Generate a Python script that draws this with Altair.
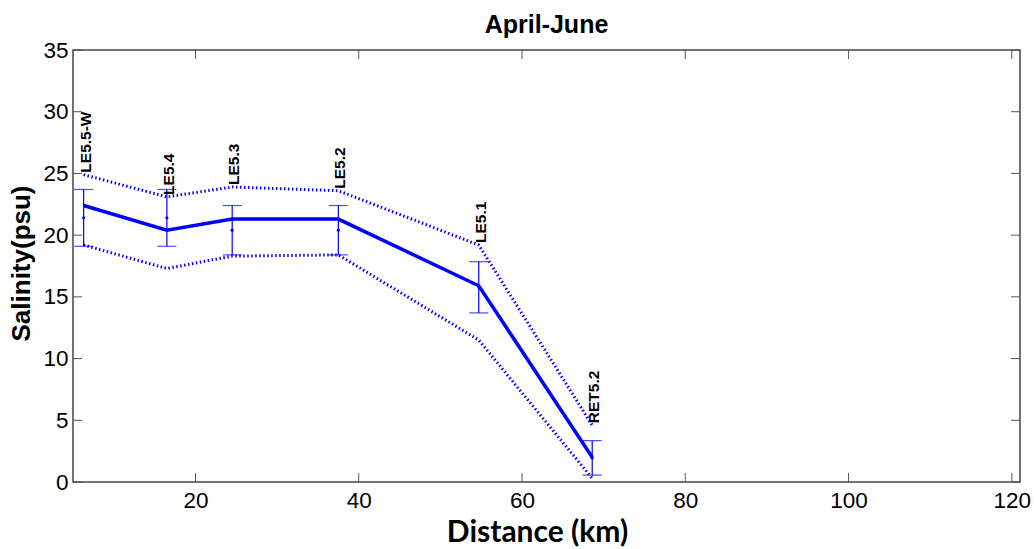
import altair as alt
import pandas as pd

stations = ["LE5.5-W", "LE5.4", "LE5.3", "LE5.2", "LE5.1", "RET5.2"]
distance = [6.3, 16.5, 24.5, 37.5, 54.7, 68.6]
mean_sal = [22.4, 20.4, 21.3, 21.3, 15.9, 2.0]
upper_sal = [24.9, 23.1, 23.9, 23.6, 19.2, 4.6]
lower_sal = [19.2, 17.3, 18.3, 18.4, 11.5, 0.3]
err_center = [21.4, 21.4, 20.4, 20.4, 15.8, 1.95]
err_high = [23.7, 23.7, 22.4, 22.4, 17.85, 3.35]
err_low = [19.1, 19.1, 18.4, 18.4, 13.7, 0.55]

x_ticks = [20, 40, 60, 80, 100, 120]
y_ticks = [0, 5, 10, 15, 20, 25, 30, 35]

df = pd.DataFrame({
    "station": stations, "dist": distance, "mean": mean_sal,
    "upper": upper_sal, "lower": lower_sal, "c": err_center,
    "hi": err_high, "lo": err_low,
})
xt = pd.DataFrame({"t": x_ticks})
yt = pd.DataFrame({"t": y_ticks})

BLUE = "#0000ff"
W, H = 947, 432
xs = alt.Scale(domain=[5, 121], nice=False, zero=False)
ys = alt.Scale(domain=[0, 35], nice=False)

X = alt.X("dist:Q", scale=xs, title="Distance (km)",
          axis=alt.Axis(values=x_ticks, ticks=False, labelPadding=7, grid=False,
                        titleFont="Lato", titleFontWeight="bold", titleFontSize=30,
                        titlePadding=6, titleX=464, domain=False))
Y = alt.Y("mean:Q", scale=ys, title="Salinity(psu)",
          axis=alt.Axis(values=y_ticks, ticks=False, labelPadding=5, grid=False,
                        titleFontSize=26, titleFontWeight="bold", titlePadding=8,
                        titleY=213, domain=False))

base = alt.Chart(df)

mean_line = base.mark_line(color=BLUE, strokeWidth=3.5).encode(x=X, y=Y)
upper_line = base.mark_line(color=BLUE, strokeWidth=3, strokeDash=[1.5, 2.5]).encode(
    x=alt.X("dist:Q", scale=xs), y=alt.Y("upper:Q", scale=ys))
lower_line = base.mark_line(color=BLUE, strokeWidth=3, strokeDash=[1.5, 2.5]).encode(
    x=alt.X("dist:Q", scale=xs), y=alt.Y("lower:Q", scale=ys))

err_rule = base.mark_rule(color=BLUE, strokeWidth=1.2).encode(
    x=alt.X("dist:Q", scale=xs), y=alt.Y("lo:Q", scale=ys), y2="hi:Q")
cap_hi = base.mark_tick(color=BLUE, orient="horizontal", size=19, thickness=1.2).encode(
    x=alt.X("dist:Q", scale=xs), y=alt.Y("hi:Q", scale=ys))
cap_lo = base.mark_tick(color=BLUE, orient="horizontal", size=19, thickness=1.2).encode(
    x=alt.X("dist:Q", scale=xs), y=alt.Y("lo:Q", scale=ys))
center = base.mark_point(color=BLUE, filled=True, size=10, opacity=1).encode(
    x=alt.X("dist:Q", scale=xs), y=alt.Y("c:Q", scale=ys))

labels = base.mark_text(angle=270, align="left", baseline="middle", dx=2, dy=2,
                        font="Liberation Sans", fontWeight="bold", fontSize=15.5,
                        color="black").encode(
    x=alt.X("dist:Q", scale=xs), y=alt.Y("upper:Q", scale=ys), text="station:N")

TICK = "#555555"
xtick_b = alt.Chart(xt).mark_rule(color=TICK, strokeWidth=1).encode(
    x=alt.X("t:Q", scale=xs), y=alt.value(H), y2=alt.value(H - 9))
xtick_t = alt.Chart(xt).mark_rule(color=TICK, strokeWidth=1).encode(
    x=alt.X("t:Q", scale=xs), y=alt.value(0), y2=alt.value(9))
ytick_l = alt.Chart(yt).mark_rule(color=TICK, strokeWidth=1).encode(
    y=alt.Y("t:Q", scale=ys), x=alt.value(0), x2=alt.value(9))
ytick_r = alt.Chart(yt).mark_rule(color=TICK, strokeWidth=1).encode(
    y=alt.Y("t:Q", scale=ys), x=alt.value(W), x2=alt.value(W - 9))

chart = alt.layer(
    mean_line, upper_line, lower_line, err_rule, cap_hi, cap_lo, center, labels,
    xtick_b, xtick_t, ytick_l, ytick_r,
).properties(
    width=W, height=H,
    background="white",
    title=alt.Title("April-June", font="Liberation Sans", fontSize=25, fontWeight="bold",
                    color="black", offset=1),
    autosize=alt.AutoSizeParams(type="none"),
    padding={"left": 73, "top": 50, "right": 14, "bottom": 67},
).configure_view(
    stroke="#444444", strokeWidth=1.5
).configure_axis(
    labelFont="Liberation Sans", labelFontSize=22.5, labelColor="black",
    titleFont="Liberation Sans", titleColor="black", grid=False,
)

chart.save("out.html", embed_options={"renderer": "svg", "actions": False})
